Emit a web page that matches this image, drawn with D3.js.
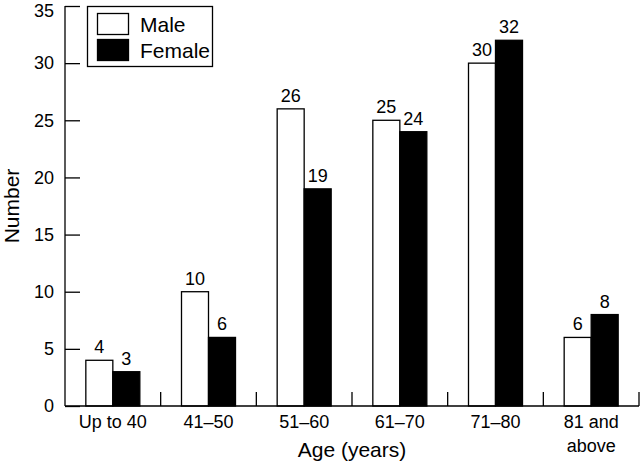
<!DOCTYPE html>
<html><head><meta charset="utf-8">
<script src="https://cdn.jsdelivr.net/npm/d3@7"></script>
<style>body{margin:0;background:#fff}svg{display:block;font-family:"Liberation Sans",Arial,sans-serif}</style>
</head><body><svg id="c" width="640" height="463"></svg>
<script>
const categories = ["Up to 40", "41\u201350", "51\u201360", "61\u201370", "71\u201380", "81 and|above"];
const male = [4, 10, 26, 25, 30, 6];
const female = [3, 6, 19, 24, 32, 8];
const seriesNames = ["Male", "Female"];
const yTicks = [0, 5, 10, 15, 20, 25, 30, 35];

const svg = d3.select("#c");
const L = 65, R = 639, T = 6, B = 406;
const x = d3.scaleBand().domain(categories).range([L, R]);
const y = d3.scaleLinear().domain([0, 35]).range([B, T]);
const bw = 27;
const fills = ["#fff", "#000"];
const data = [male, female];

// bars
data.forEach((vals, si) => {
  svg.append("g").selectAll("rect").data(vals).join("rect")
    .attr("x", (d, i) => x(categories[i]) + x.bandwidth() / 2 - bw + si * bw)
    .attr("y", d => y(d))
    .attr("width", bw)
    .attr("height", d => B - y(d))
    .attr("fill", fills[si]).attr("stroke", "#000").attr("stroke-width", 1.3);
  svg.append("g").selectAll("text").data(vals).join("text")
    .attr("x", (d, i) => x(categories[i]) + x.bandwidth() / 2 - bw + si * bw + bw / 2)
    .attr("y", d => y(d) - 7)
    .attr("text-anchor", "middle").attr("font-size", 18).text(d => d);
});

// y axis
const ya = svg.append("g").attr("transform", `translate(${L},0)`)
  .call(d3.axisRight(y).tickValues(yTicks).tickSize(15).tickFormat(d3.format("d")));
ya.select(".domain").attr("d", `M0,${T}V${B}`).attr("stroke-width", 1.3);
ya.selectAll(".tick line").attr("stroke-width", 1.3);
ya.selectAll(".tick text").attr("x", -11).attr("text-anchor", "end").attr("font-size", 18)
  .attr("font-family", "Liberation Sans, Arial, sans-serif").attr("fill", "#000")
  .attr("y", d => d === 35 ? 5 : 0);

// x axis
const xa = svg.append("g").attr("transform", `translate(0,${B})`)
  .call(d3.axisBottom(x).tickSize(0).tickFormat(""));
xa.select(".domain").attr("d", `M${L},0H${R}`).attr("stroke-width", 1.3);
xa.selectAll(".tick").remove();
const bounds = categories.slice(1).map(c => x(c)).concat([R]);
svg.append("g").selectAll("line").data(bounds).join("line")
  .attr("x1", d => d).attr("x2", d => d).attr("y1", B).attr("y2", B - 14)
  .attr("stroke", "#000").attr("stroke-width", 1.3);
svg.append("g").selectAll("text").data(categories).join("text")
  .attr("x", d => x(d) + x.bandwidth() / 2).attr("y", 428)
  .attr("text-anchor", "middle").attr("font-size", 18)
  .each(function (d) {
    const parts = d.split("|");
    d3.select(this).selectAll("tspan").data(parts).join("tspan")
      .attr("x", x(d) + x.bandwidth() / 2).attr("dy", (p, i) => i ? 24 : 0).text(p => p);
  });

// axis titles
svg.append("text").attr("x", (L + R) / 2).attr("y", 457).attr("text-anchor", "middle")
  .attr("font-size", 21).text("Age (years)");
svg.append("text").attr("transform", `translate(18.5,${(T + B) / 2}) rotate(-90)`)
  .attr("text-anchor", "middle").attr("font-size", 21).text("Number");

// legend
const lg = svg.append("g");
lg.append("rect").attr("x", 87.5).attr("y", 6.5).attr("width", 125).attr("height", 60)
  .attr("fill", "#fff").attr("stroke", "#000").attr("stroke-width", 1.3);
seriesNames.forEach((n, i) => {
  lg.append("rect").attr("x", 97.5).attr("y", 13.5 + i * 26).attr("width", 31).attr("height", 21)
    .attr("fill", fills[i]).attr("stroke", "#000").attr("stroke-width", 1.3);
  lg.append("text").attr("x", 140).attr("y", 31.5 + i * 26).attr("font-size", 21).text(n);
});
</script></body></html>
